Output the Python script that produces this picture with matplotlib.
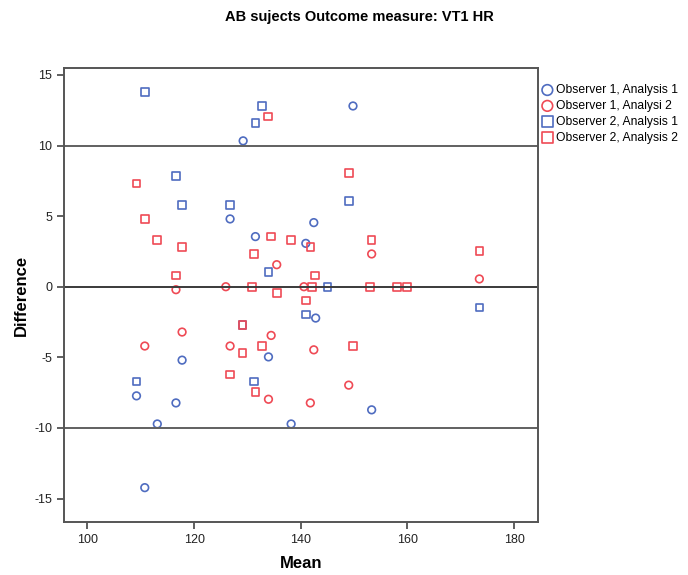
import matplotlib
matplotlib.use("Agg")
import matplotlib.pyplot as plt

# Observer 1, Analysis 1 (blue circles)
o1a1_mean = [110.75, 113.1, 138.2, 116.6, 109.2, 117.75, 133.95, 142.8, 153.3,
             126.75, 131.5, 140.95, 142.45, 129.2, 149.8]
o1a1_diff = [-14.23, -9.72, -9.72, -8.23, -7.73, -5.2, -4.97, -2.22, -8.72,
             4.8, 3.55, 3.07, 4.54, 10.33, 12.8]

# Observer 1, Analysi 2 (red circles)
o1a2_mean = [116.6, 125.95, 135.5, 140.6, 153.3, 173.5, 117.75, 134.45, 110.75,
             126.75, 142.45, 133.95, 141.8, 149.0]
o1a2_diff = [-0.21, 0.0, 1.56, 0.0, 2.32, 0.55, -3.21, -3.45, -4.2,
             -4.2, -4.47, -7.97, -8.23, -6.97]

# Observer 2, Analysis 1 (blue squares)
o2a1_mean = [110.75, 132.7, 131.5, 116.6, 117.75, 126.75, 149.0, 133.95, 145.0,
             141.0, 173.5, 129.1, 109.2, 131.25]
o2a1_diff = [13.8, 12.8, 11.6, 7.82, 5.8, 5.8, 6.05, 1.06, 0.0,
             -1.96, -1.47, -2.72, -6.7, -6.7]

# Observer 2, Analysis 2 (red squares)
o2a2_mean = [133.9, 109.2, 149.0, 110.75, 134.4, 138.2, 113.1, 117.75, 131.25,
             141.8, 153.3, 173.5, 116.6, 142.7, 130.9, 142.1, 152.96, 158.0,
             159.9, 135.5, 141.0, 149.8, 132.7, 129.1, 126.75, 131.5, 129.1]
o2a2_diff = [12.06, 7.3, 8.06, 4.8, 3.55, 3.3, 3.3, 2.8, 2.3,
             2.8, 3.29, 2.55, 0.8, 0.8, 0.0, 0.0, 0.0, 0.0,
             0.0, -0.45, -0.97, -4.2, -4.2, -4.7, -6.22, -7.47, -2.72]

ref_lines = [10, 0, -10]

blue = '#4f6cc0'
red = '#ef4a55'

plt.rcParams['font.family'] = ['Liberation Sans', 'DejaVu Sans']
plt.rcParams['axes.unicode_minus'] = False

fig = plt.figure(figsize=(6.88, 5.75), dpi=100)
ax = fig.add_axes([0.093, 0.092, 0.689, 0.790])

kw = dict(facecolor='none', s=30, linewidths=1.2)
ax.scatter(o1a1_mean, o1a1_diff, marker='o', edgecolors=blue, label='Observer 1, Analysis 1', **kw)
ax.scatter(o1a2_mean, o1a2_diff, marker='o', edgecolors=red, label='Observer 1, Analysi 2', **kw)
ax.scatter(o2a1_mean, o2a1_diff, marker='s', edgecolors=blue, label='Observer 2, Analysis 1', **kw)
ax.scatter(o2a2_mean, o2a2_diff, marker='s', edgecolors=red, label='Observer 2, Analysis 2', **kw)

for y in ref_lines:
    ax.axhline(y, color='#3a3a3a' if y == 0 else '#606060', lw=1.4, zorder=1)

ax.set_xlim(95.6, 184.5)
ax.set_ylim(-16.67, 15.5)
ax.set_xticks([100, 120, 140, 160, 180])
ax.set_yticks([-15, -10, -5, 0, 5, 10, 15])
ax.tick_params(direction='out', length=5, width=1.2, color='#444444',
               labelsize=9, labelcolor='#222222')
for sp in ax.spines.values():
    sp.set_color('#555555')
    sp.set_linewidth(1.4)

ax.set_xlabel('Mean', fontsize=12, fontweight='bold', labelpad=7)
ax.set_ylabel('Difference', fontsize=12, fontweight='bold', labelpad=4)
fig.suptitle('AB sujects Outcome measure: VT1 HR', x=0.523, y=0.982,
             fontsize=10.5, fontweight='bold')

fig.legend(loc='upper left', bbox_to_anchor=(0.778, 0.862), frameon=False,
           fontsize=8.7, markerscale=1.4, handletextpad=0.1, labelspacing=0.32,
           borderaxespad=0, handlelength=1.2)

fig.savefig('out.png', dpi=100)
